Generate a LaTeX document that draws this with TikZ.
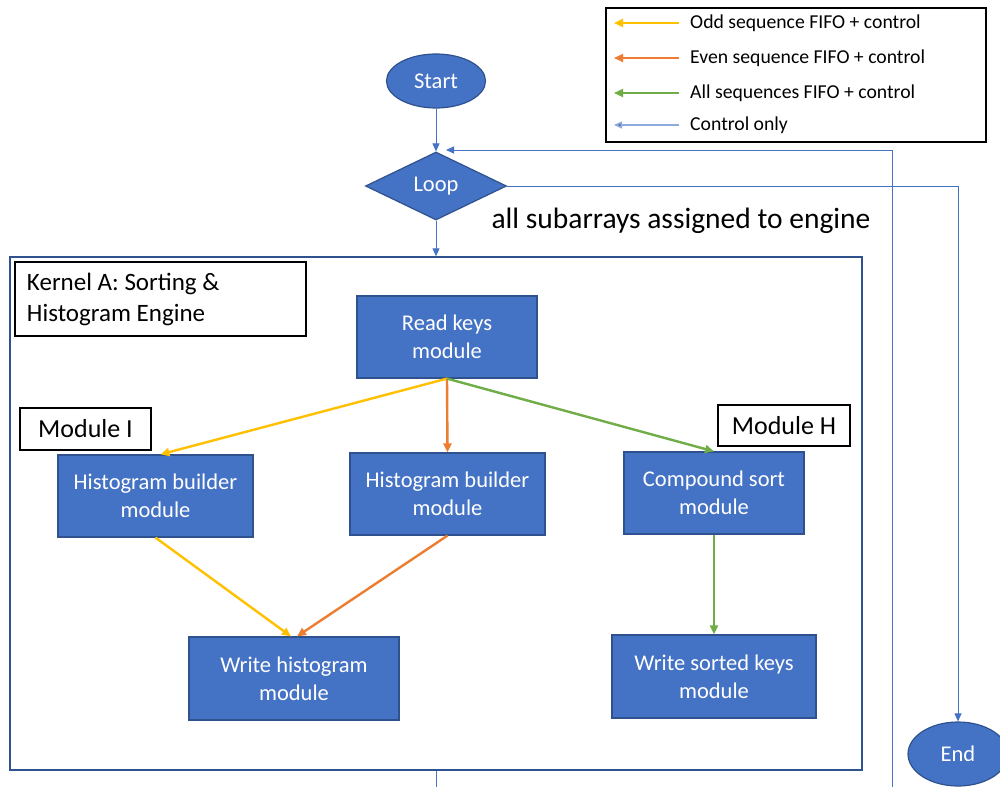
\documentclass[tikz,border=0pt]{standalone}
\usepackage{fontspec}
\setmainfont{Carlito}
\usetikzlibrary{arrows.meta,shapes.geometric}
\definecolor{officeblue}{HTML}{4472C4}
\definecolor{edgeblue}{HTML}{2F528F}
\definecolor{oddcol}{HTML}{FFC000}
\definecolor{evencol}{HTML}{ED7D31}
\definecolor{allcol}{HTML}{70AD47}
\definecolor{ctrlcol}{HTML}{4472C4}
\tikzset{
  block/.style={rectangle, fill=officeblue, draw=edgeblue, line width=1.2pt,
    text=white, align=center, font=\fontsize{22.5}{28}\selectfont, inner sep=2pt},
  terminal/.style={ellipse, fill=officeblue, draw=edgeblue, line width=1.2pt,
    text=white, font=\fontsize{22.5}{27}\selectfont, inner sep=0pt},
  decision/.style={diamond, fill=officeblue, draw=edgeblue, line width=1.2pt,
    text=white, font=\fontsize{22.5}{27}\selectfont, inner sep=0pt},
  tag/.style={rectangle, draw=black, line width=1.8pt, fill=white,
    font=\fontsize{26}{31}\selectfont, inner sep=0pt},
  flowtip/.style={-{Triangle[length=9pt,width=8pt]}},
  oddflow/.style={flowtip, draw=oddcol, line width=2.4pt, fill=oddcol},
  evenflow/.style={flowtip, draw=evencol, line width=2.4pt, fill=evencol},
  allflow/.style={flowtip, draw=allcol, line width=2.4pt, fill=allcol},
  ctrlflow/.style={-{Triangle[length=8pt,width=7pt]}, draw=ctrlcol, line width=1pt},
  legtext/.style={anchor=west, font=\fontsize{19.7}{23}\selectfont, inner sep=0pt}
}
\begin{document}
\begin{tikzpicture}[x=1pt,y=-1pt]
\useasboundingbox[fill=white] (0,0) rectangle (1000,787);

% legend
\node[draw=black, line width=1.5pt, minimum width=380pt, minimum height=134pt] (legend) at (796,75) {};
\coordinate (la1) at (679,23);  \coordinate (lb1) at (614,23);
\coordinate (la2) at (679,58);  \coordinate (lb2) at (614,58);
\coordinate (la3) at (679,93);  \coordinate (lb3) at (614,93);
\coordinate (la4) at (679,125); \coordinate (lb4) at (614,125);
\draw[oddflow, line width=2pt] (la1) -- (lb1);
\draw[evenflow, line width=2pt] (la2) -- (lb2);
\draw[allflow, line width=2pt] (la3) -- (lb3);
\draw[ctrlflow, draw=ctrlcol!60, line width=1.5pt, -{Triangle[length=8pt,width=7pt,fill=ctrlcol]}] (la4) -- (lb4);
\node[legtext] (lt1) at (690,23) {Odd sequence FIFO + control};
\node[legtext] (lt2) at (690,58) {Even sequence FIFO + control};
\node[legtext] (lt3) at (690,93) {All sequences FIFO + control};
\node[legtext] (lt4) at (690,125) {Control only};

% outer control flow
\node[terminal, minimum width=99pt, minimum height=54pt] (start) at (436,81) {Start};
\node[decision, minimum width=141pt, minimum height=68pt] (loop) at (436,186) {Loop};
\node[terminal, minimum width=100pt, minimum height=64pt] (end) at (958,754) {End};
\node[font=\fontsize{29.5}{34}\selectfont, inner sep=0pt] (cond) at (681,221) {all subarrays assigned to engine};

% kernel frame
\node[draw=edgeblue, line width=1.4pt, minimum width=852pt, minimum height=513pt] (kernel) at (436,513.5) {};
\node[tag, minimum width=291pt, minimum height=74pt, text width=267pt, align=flush left,
  font=\fontsize{25}{31}\selectfont] (title) at (160.5,299)
  {Kernel A: Sorting \&\\Histogram Engine};

% modules
\node[block, minimum width=180pt, minimum height=82pt] (keys) at (447,337) {Read keys\\module};
\node[block, minimum width=195pt, minimum height=82pt] (histl) at (155.5,496) {Histogram builder\\module};
\node[block, minimum width=195pt, minimum height=82pt] (histm) at (447.5,494) {Histogram builder\\module};
\node[block, minimum width=180pt, minimum height=82pt] (csort) at (714,493) {Compound sort\\module};
\node[block, minimum width=210pt, minimum height=83pt] (whist) at (294,678.5) {Write histogram\\module};
\node[block, minimum width=204pt, minimum height=83pt] (wsort) at (714,676.5) {Write sorted keys\\module};

\node[tag, minimum width=131pt, minimum height=42pt] (modi) at (85.5,429) {Module I};
\node[tag, minimum width=132pt, minimum height=41pt] (modh) at (784,425.5) {Module H};

% data flow inside the engine
\draw[oddflow] (keys.south) -- ([xshift=5pt]histl.north);
\draw[evenflow] (keys.south) -- (histm.north);
\draw[allflow] (keys.south) -- (csort.north);
\draw[oddflow] (histl.south) -- ([xshift=-3pt]whist.north);
\draw[evenflow] (histm.south) -- ([xshift=3pt]whist.north);
\draw[allflow] (csort.south) -- (wsort.north);

% control connectors
\coordinate (retfoot) at (892,787);
\coordinate (rettop) at (446,150);
\coordinate (kfoot) at (436,787);
\draw[ctrlflow] (start.south) -- (loop.north);
\draw[ctrlflow] (loop.south) -- (kernel.north);
\draw[ctrlflow] (retfoot) |- (rettop);
\draw[ctrlflow] (loop.east) -| (end.north);
\draw[draw=ctrlcol, line width=1pt] (kernel.south) -- (kfoot);
\end{tikzpicture}
\end{document}
